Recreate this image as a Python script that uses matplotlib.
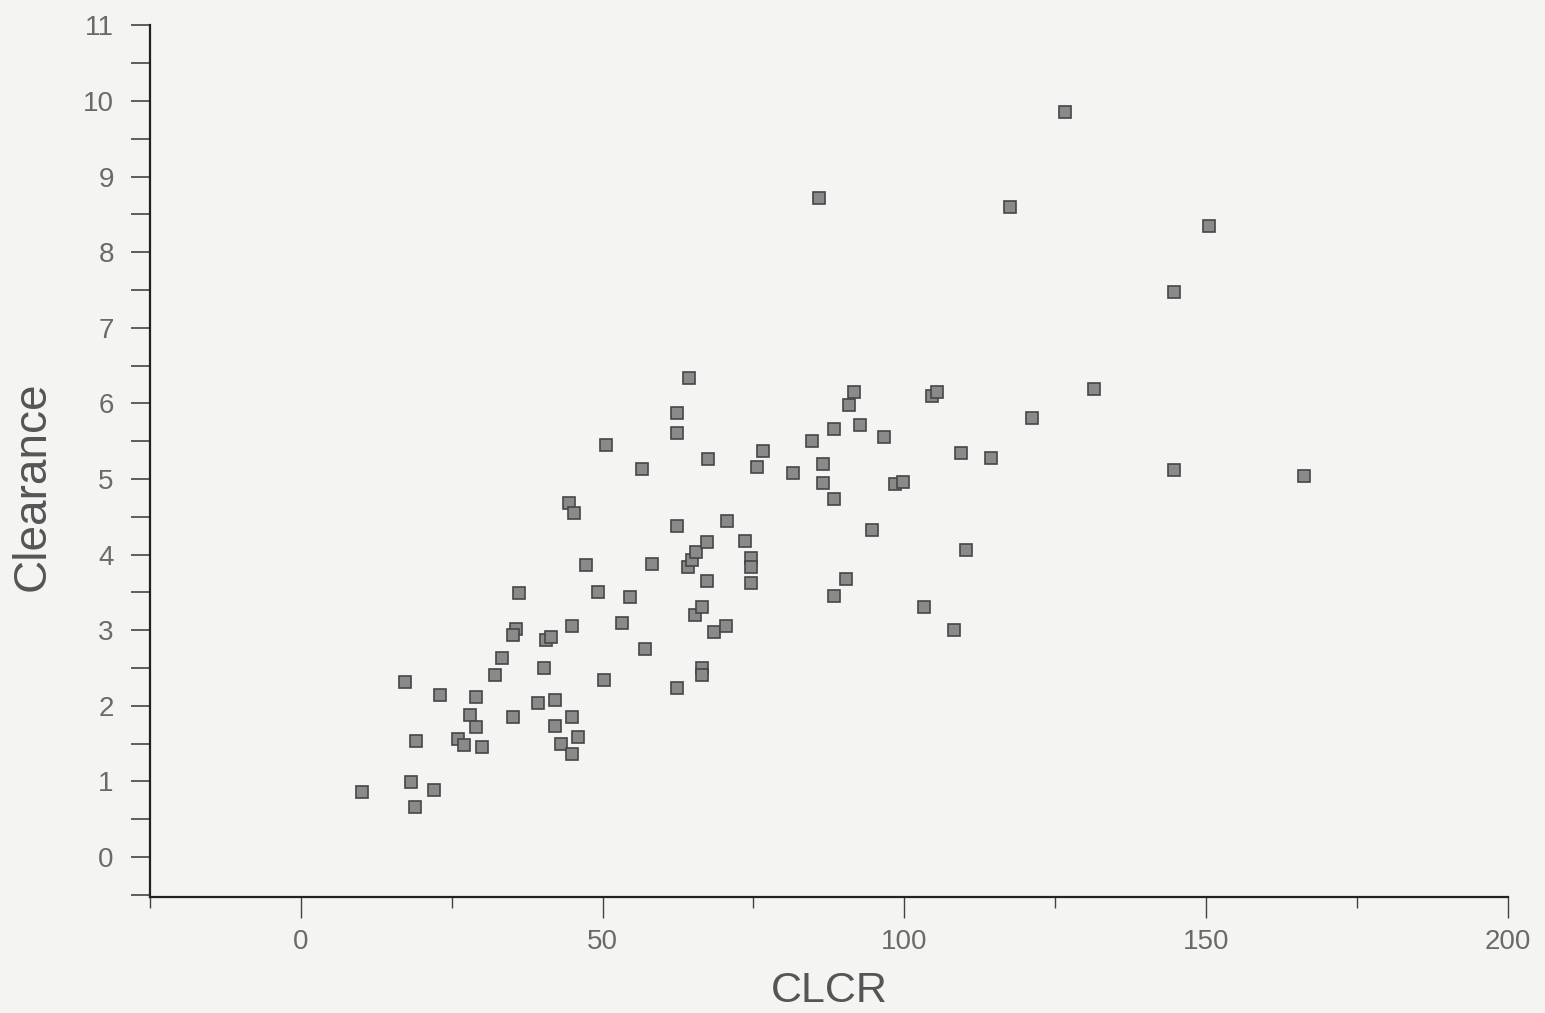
import matplotlib
matplotlib.use('Agg')
import matplotlib.pyplot as plt
from matplotlib.ticker import MultipleLocator

# creatinine clearance vs. drug clearance
clcr = [10.1, 17.2, 18.2, 19.0, 19.1, 22.1, 23.1, 26.1, 27.1, 28.1,
        29.0, 29.0, 30.0, 32.2, 33.3, 35.1, 35.6, 35.1, 36.1, 39.3,
        40.3, 40.6, 41.4, 42.2, 42.2, 43.1, 44.4, 45.0, 45.0, 45.0,
        45.2, 46.0, 47.2, 49.3, 50.2, 50.5, 53.3, 54.5, 56.6, 57.1,
        58.2, 62.4, 62.4, 62.4, 62.4, 64.1, 64.4, 64.8, 65.3, 65.4,
        66.5, 66.5, 66.5, 67.3, 67.3, 67.5, 68.5, 70.5, 70.6, 73.6,
        74.6, 74.6, 74.6, 75.6, 76.6, 81.5, 84.7, 85.8, 86.5, 86.5,
        88.4, 88.4, 88.4, 90.4, 90.9, 91.7, 92.7, 94.6, 96.7, 98.5,
        99.8, 103.3, 104.5, 105.4, 108.3, 109.4, 110.2, 114.4, 117.5, 121.1,
        126.6, 131.4, 144.7, 144.7, 150.5, 166.2]
clearance = [0.86, 2.31, 0.99, 0.66, 1.53, 0.89, 2.14, 1.56, 1.48, 1.88,
             2.12, 1.72, 1.46, 2.41, 2.63, 1.85, 3.01, 2.94, 3.49, 2.04,
             2.50, 2.87, 2.91, 2.08, 1.73, 1.49, 4.68, 3.06, 1.85, 1.36,
             4.55, 1.59, 3.86, 3.51, 2.34, 5.45, 3.10, 3.44, 5.13, 2.75,
             3.88, 5.87, 5.61, 4.38, 2.24, 3.84, 6.34, 3.93, 3.20, 4.03,
             3.31, 2.50, 2.40, 4.17, 3.65, 5.26, 2.98, 3.06, 4.44, 4.18,
             3.95, 3.83, 3.62, 5.16, 5.37, 5.08, 5.50, 8.72, 5.20, 4.95,
             5.66, 4.74, 3.45, 3.68, 5.98, 6.15, 5.71, 4.33, 5.56, 4.93,
             4.96, 3.31, 6.10, 6.15, 3.00, 5.34, 4.06, 5.28, 8.60, 5.81,
             9.85, 6.19, 7.47, 5.12, 8.35, 5.04]

bg = '#f4f4f2'
fig = plt.figure(figsize=(15.45, 10.13), dpi=100, facecolor=bg)
ax = fig.add_axes([0.097, 0.1145, 0.879, 0.8605], facecolor=bg)

ax.plot(clcr, clearance, linestyle='none', marker='s', markersize=9.2,
        markerfacecolor='#8a8a8a', markeredgecolor='#464646', markeredgewidth=1.2)

ax.set_xlim(-25, 200)
ax.set_ylim(-0.53, 11)
for side in ('top', 'right'):
    ax.spines[side].set_visible(False)
for side in ('left', 'bottom'):
    ax.spines[side].set_linewidth(1.6)
    ax.spines[side].set_color('#222222')

ax.xaxis.set_major_locator(MultipleLocator(50))
ax.xaxis.set_minor_locator(MultipleLocator(25))
ax.yaxis.set_major_locator(MultipleLocator(1))
ax.yaxis.set_minor_locator(MultipleLocator(0.5))

ax.tick_params(axis='x', which='major', length=15, width=1.0, color='#444444',
               pad=8, labelsize=20, labelcolor='#6a6a6a')
ax.tick_params(axis='x', which='minor', length=8, width=1.0, color='#444444')
ax.tick_params(axis='y', which='both', length=14, width=1.2, color='#444444',
               pad=12, labelsize=20, labelcolor='#6a6a6a')
for lab in ax.get_xticklabels() + ax.get_yticklabels():
    lab.set_family(['Liberation Sans', 'DejaVu Sans'])

fig.text(0.537, 0.022, 'CLCR', ha='center', va='center', fontsize=31,
         color='#555555', family=['Liberation Sans', 'DejaVu Sans'])
fig.text(0.021, 0.52, 'Clearance', ha='center', va='center', rotation=90,
         fontsize=33, color='#555555',
         family=['Liberation Sans Narrow', 'Liberation Sans', 'DejaVu Sans'])

fig.savefig('out.png', dpi=100, facecolor=bg)
